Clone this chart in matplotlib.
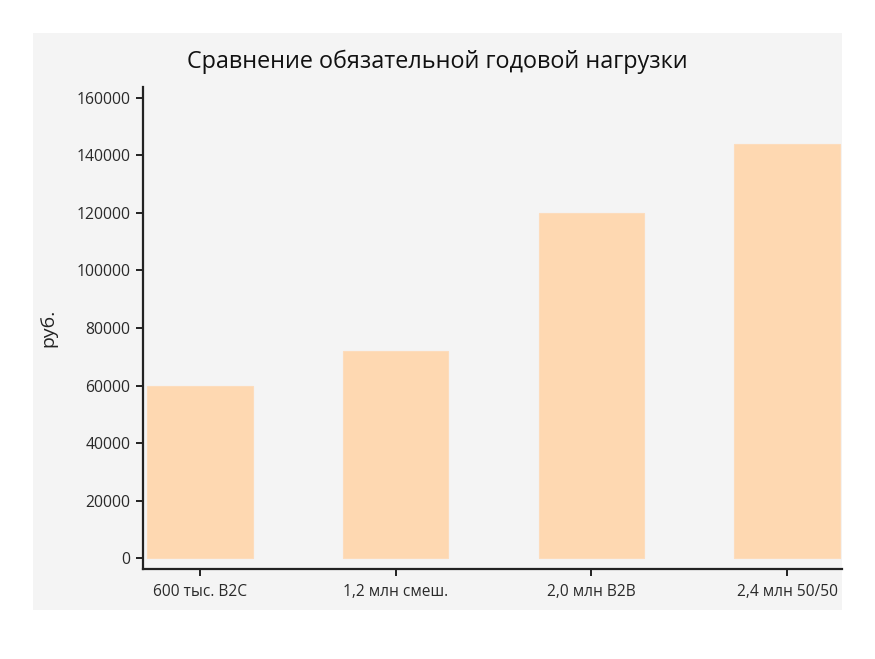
import matplotlib
matplotlib.use("Agg")
import matplotlib.pyplot as plt
from matplotlib.patches import Rectangle

categories = ["600 тыс. B2C", "1,2 млн смеш.", "2,0 млн B2B", "2,4 млн 50/50"]
values = [60000, 72000, 120000, 144000]
yticks = [0, 20000, 40000, 60000, 80000, 100000, 120000, 140000, 160000]

plt.rcParams["font.family"] = ["Open Sans", "DejaVu Sans"]

bg = "#f4f4f4"
fig = plt.figure(figsize=(8.75, 6.59), dpi=100, facecolor="white")
fig.patches.append(Rectangle((0.0377, 0.0744), 0.9245, 0.8756, transform=fig.transFigure,
                             facecolor=bg, edgecolor="none", zorder=-10))
ax = fig.add_axes([0.1634, 0.1366, 0.7989, 0.7314])
ax.set_facecolor(bg)

x = list(range(len(categories)))
ax.bar(x, values, width=0.54, color="#fed8b1", edgecolor="#fddcbc", linewidth=0.8)

ax.set_xticks(x)
ax.set_xticklabels(categories, fontsize=11.2)
ax.set_yticks(yticks)
ax.set_yticklabels([str(v) for v in yticks], fontsize=11.3)
ax.set_xlim(-0.29, 3.28)
ax.set_ylim(-3800, 163800)

for side in ("top", "right"):
    ax.spines[side].set_visible(False)
for side in ("left", "bottom"):
    ax.spines[side].set_linewidth(1.6)
    ax.spines[side].set_color("#222222")
ax.tick_params(axis="both", length=5, width=1.4, color="#222222", labelcolor="#2a2a2a")
ax.tick_params(axis="y", pad=4)
ax.tick_params(axis="x", pad=6)

ax.set_ylabel("руб.", fontsize=14, color="#222222", labelpad=14)
fig.suptitle("Сравнение обязательной годовой нагрузки", fontsize=16.8, y=0.925, color="#111111")

fig.savefig("out.png", dpi=100, facecolor="white")
